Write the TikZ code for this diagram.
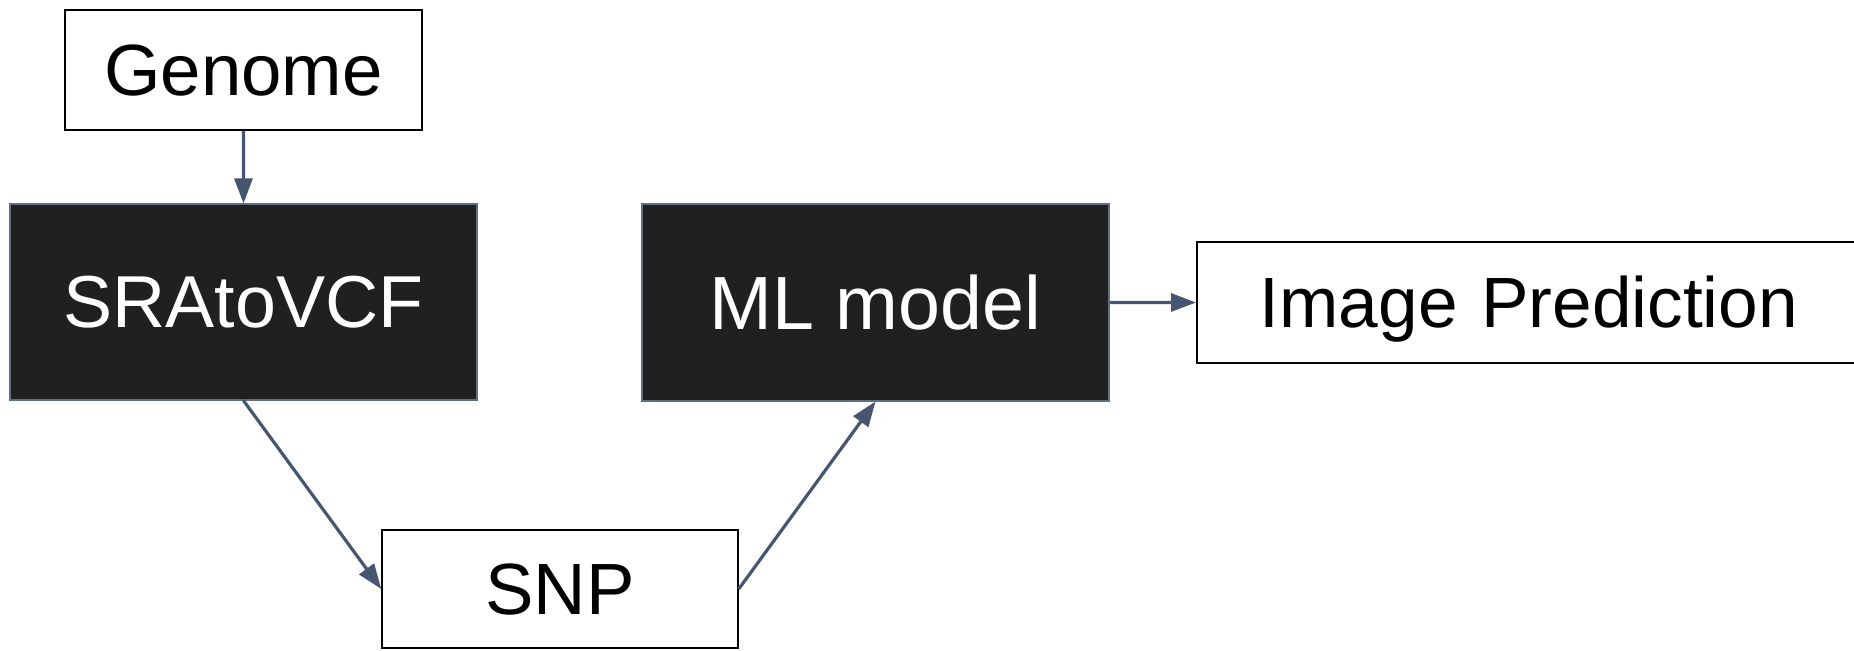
\documentclass[tikz,border=0pt]{standalone}
\usepackage{fontspec}
\setmainfont{Liberation Sans}
\usetikzlibrary{arrows.meta}
\definecolor{arrowc}{HTML}{465670}
\definecolor{darkfill}{HTML}{202020}
\definecolor{darkedge}{HTML}{5F6E84}
\tikzset{
  whitebox/.style={draw=black, line width=0.75pt, fill=white, inner sep=0pt, font=\fontsize{36.3}{40}\selectfont},
  darkbox/.style={draw=darkedge, line width=0.6pt, fill=darkfill, text=white, inner sep=0pt, font=\fontsize{36.8}{42}\selectfont},
  flow/.style={draw=arrowc, line width=1.6pt, -{Triangle[length=12.5pt,width=9pt]}}
}
\begin{document}
\begin{tikzpicture}[x=0.5pt,y=-0.5pt]
\useasboundingbox (0,0) rectangle (1854,650);
\node[whitebox, minimum width=178.5pt, minimum height=60pt] (genome) at (243.4,70) {Genome};
\node[darkbox, minimum width=233.5pt, minimum height=98pt] (sra) at (243.5,302) {SRAtoVCF};
\node[whitebox, minimum width=178pt, minimum height=59pt] (snp) at (560,589) {SNP};
\node[darkbox, minimum width=233.5pt, minimum height=98.5pt, font=\fontsize{37.7}{42}\selectfont] (ml) at (875.5,302.4) {ML model};
\node[whitebox, anchor=west, minimum height=60.5pt, text width=360pt, inner xsep=31.5pt, align=left, text depth=0.1em, font=\fontsize{35.6}{40}\selectfont] (img) at (1196,302.5) {Image Prediction};
\draw[flow] (genome.south) -- (sra.north);
\draw[flow] (sra.south) -- (snp.west);
\draw[flow] (snp.east) -- (ml.south);
\draw[flow] (ml.east) -- (img.west);
\end{tikzpicture}
\end{document}
